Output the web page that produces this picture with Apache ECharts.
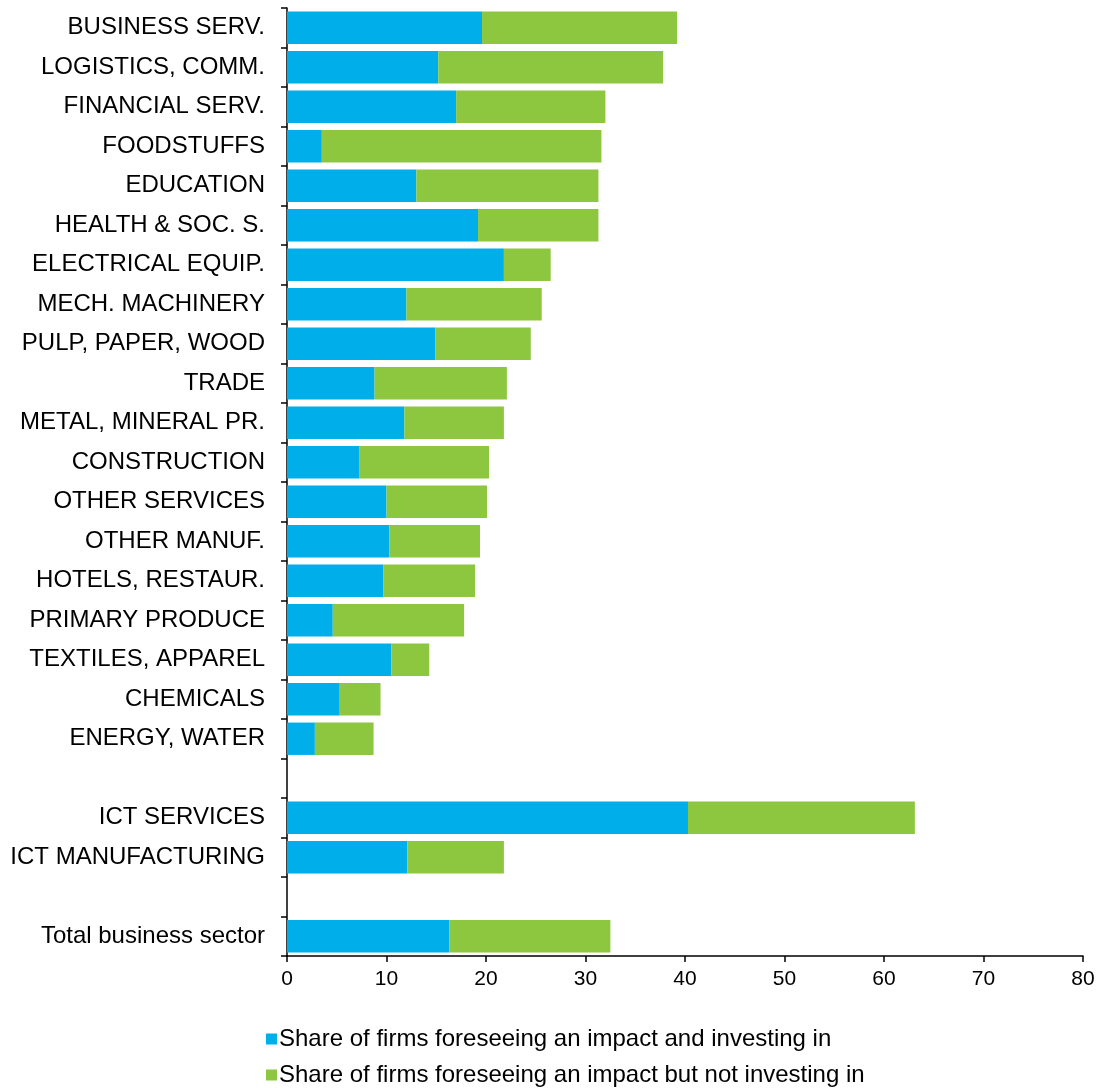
<!DOCTYPE html>
<html>
<head>
<meta charset="utf-8">
<script src="https://cdn.jsdelivr.net/npm/echarts@6/dist/echarts.min.js"></script>
<style>
  html, body { margin: 0; padding: 0; background: #fff; }
  #chart { width: 1103px; height: 1091px; }
</style>
</head>
<body>
<div id="chart"></div>
<script>
// Sector labels, top to bottom; empty strings are spacer rows between groups.
const categories = [
  'BUSINESS SERV.', 'LOGISTICS, COMM.', 'FINANCIAL SERV.', 'FOODSTUFFS',
  'EDUCATION', 'HEALTH & SOC. S.', 'ELECTRICAL EQUIP.', 'MECH. MACHINERY',
  'PULP, PAPER, WOOD', 'TRADE', 'METAL, MINERAL PR.', 'CONSTRUCTION',
  'OTHER SERVICES', 'OTHER MANUF.', 'HOTELS, RESTAUR.', 'PRIMARY PRODUCE',
  'TEXTILES, APPAREL', 'CHEMICALS', 'ENERGY, WATER', '',
  'ICT SERVICES', 'ICT MANUFACTURING', '', 'Total business sector'
];

// Share of firms foreseeing an impact and investing in (%)
const investing = [
  19.6, 15.2, 17.0, 3.5,
  13.0, 19.2, 21.8, 12.0,
  14.9, 8.8, 11.8, 7.3,
  10.0, 10.3, 9.7, 4.6,
  10.5, 5.3, 2.8, null,
  40.3, 12.1, null, 16.3
];

// Share of firms foreseeing an impact but not investing in (%)
const notInvesting = [
  19.6, 22.6, 15.0, 28.1,
  18.3, 12.1, 4.7, 13.6,
  9.6, 13.3, 10.0, 13.0,
  10.1, 9.1, 9.2, 13.2,
  3.8, 4.1, 5.9, null,
  22.8, 9.7, null, 16.2
];

const xTicks = { min: 0, max: 80, interval: 10 };

const seriesNames = [
  'Share of firms foreseeing an impact and investing in',
  'Share of firms foreseeing an impact but not investing in'
];

const FONT = '"Liberation Sans", Arial, sans-serif';

// One legend row per series, stacked under the axis.
function legendRow(name, top) {
  return {
    left: 261,
    top: top,
    itemWidth: 11,
    itemHeight: 11,
    icon: 'rect',
    textStyle: { fontFamily: FONT, fontSize: 24, color: '#000', padding: [0, 0, 0, -3] },
    data: [name]
  };
}

const chart = echarts.init(document.getElementById('chart'), null, { renderer: 'canvas' });

chart.setOption({
  animation: false,
  backgroundColor: '#ffffff',
  textStyle: { fontFamily: FONT },
  grid: { left: 287, right: 20, top: 8, bottom: 135, containLabel: false },
  legend: [legendRow(seriesNames[0], 1022), legendRow(seriesNames[1], 1058)],
  xAxis: {
    type: 'value',
    min: xTicks.min,
    max: xTicks.max,
    interval: xTicks.interval,
    axisLine: { show: true, lineStyle: { color: '#000', width: 1.5 } },
    axisTick: { show: true, length: 6, lineStyle: { color: '#000', width: 1.5 } },
    axisLabel: { color: '#000', fontSize: 21, fontFamily: FONT, margin: 13 },
    splitLine: { show: false }
  },
  yAxis: {
    type: 'category',
    inverse: true,
    data: categories,
    axisLine: { show: true, lineStyle: { color: '#000', width: 1.5 } },
    axisTick: { show: true, length: 6, alignWithLabel: false, lineStyle: { color: '#000', width: 1.5 } },
    axisLabel: { color: '#000', fontSize: 24, fontFamily: FONT, margin: 22, interval: 0 },
    splitLine: { show: false }
  },
  series: [
    {
      name: seriesNames[0],
      type: 'bar',
      stack: 'share',
      data: investing,
      barCategoryGap: '18%',
      itemStyle: { color: '#00AEEA' }
    },
    {
      name: seriesNames[1],
      type: 'bar',
      stack: 'share',
      data: notInvesting,
      barCategoryGap: '18%',
      itemStyle: { color: '#8DC63F' }
    }
  ]
});
</script>
</body>
</html>
